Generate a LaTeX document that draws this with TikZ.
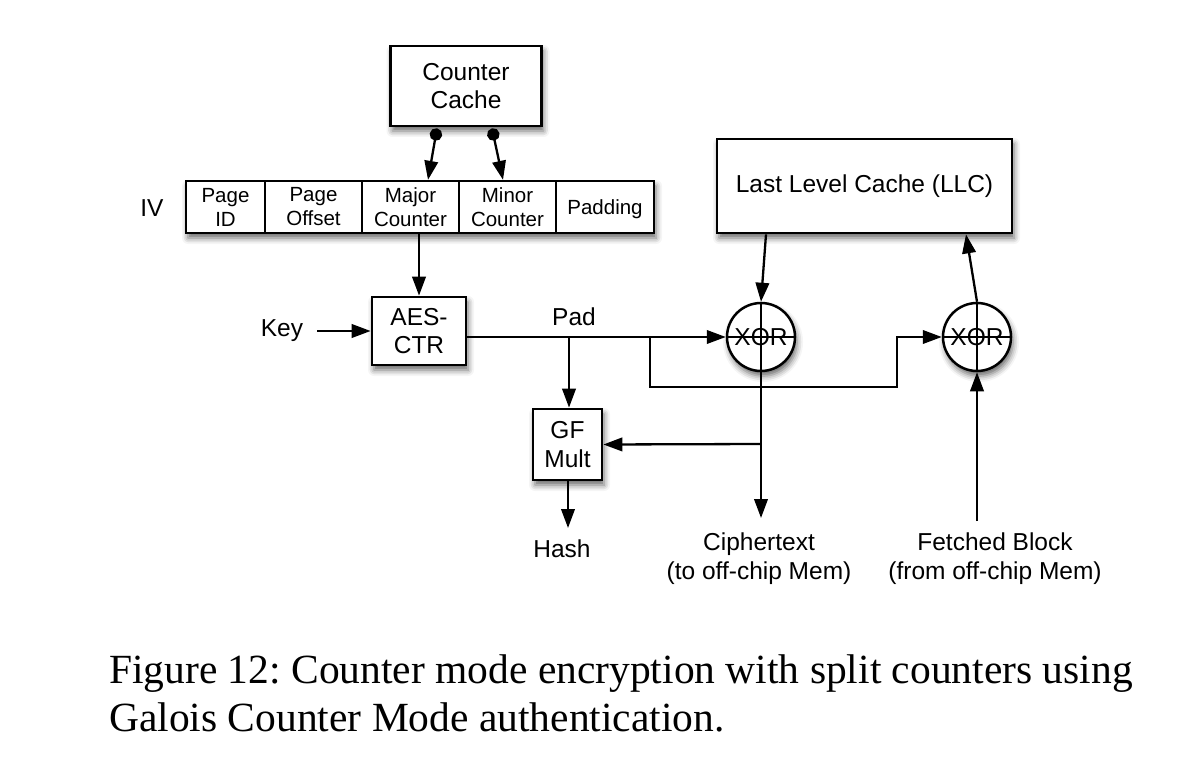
\documentclass[tikz,border=0pt]{standalone}
\usepackage{fontspec}
\setmainfont{Liberation Sans}
\newfontfamily\capfont{Liberation Serif}
\usetikzlibrary{arrows.meta,shadows.blur}
\frenchspacing
\begin{document}
\begin{tikzpicture}[x=1pt,y=-1pt,
  lw/.style={line width=2.3pt},
  arr/.style={lw,-{Triangle[length=19pt,width=13.5pt]}},
  dotarr/.style={lw,{Circle[length=12.5pt]}-{Triangle[length=19pt,width=13.5pt]}},
  shad/.style={blur shadow={shadow xshift=2pt,shadow yshift=-5pt,shadow blur radius=6pt,shadow opacity=60}},
  box/.style={draw,line width=2.7pt,fill=white,inner sep=0pt,align=center,shad,
     font=\fontsize{24.5}{28}\selectfont},
  cell/.style={draw,line width=2.3pt,fill=white,inner sep=0pt,align=center,minimum height=52pt,
     font=\fontsize{20.5}{24}\selectfont},
  lbl/.style={inner sep=0pt,align=center,font=\fontsize{24.5}{29}\selectfont},
  xorn/.style={circle,draw,line width=2.5pt,fill=white,minimum size=68pt,inner sep=0pt,shad},
]
\useasboundingbox (0,0) rectangle (1201,775);

% Counter cache
\node[box,minimum width=151pt,minimum height=80pt] (cc) at (466,86) {Counter\\Cache};

% IV row
\node[draw,line width=2.3pt,fill=white,minimum width=468pt,minimum height=52pt,inner sep=0pt,shad] (ivrow) at (420,207) {};
\node[cell,minimum width=79pt] (pid) at (225.5,207) {Page\\ID};
\node[cell,minimum width=97pt] (poff) at (313.5,207) {Page\\Offset};
\node[cell,minimum width=97pt] (major) at (410.5,207) {Major\\Counter};
\node[cell,minimum width=97pt] (minor) at (507.5,207) {Minor\\Counter};
\node[cell,minimum width=98pt] (pad) at (605,207) {};
\node[inner sep=0pt,font=\fontsize{20.5}{24}\selectfont] (padt) at (605,209) {Padding};
\node[lbl] (iv) at (152,208) {IV};

% AES-CTR and GF Mult
\node[box,minimum width=94pt,minimum height=68pt,font=\fontsize{24.5}{28}\selectfont] (aes) at (419,331) {AES-\\CTR};
\node[box,minimum width=69pt,minimum height=71pt,font=\fontsize{24.5}{29}\selectfont] (gf) at (567.5,444.5) {GF\\Mult};

% LLC
\node[box,minimum width=295pt,minimum height=94pt] (llc) at (864.5,186) {Last Level Cache (LLC)};

% XORs
\node[xorn] (x1) at (761,337) {};
\draw[lw] (x1.north) -- (x1.south) (x1.west) -- (x1.east);
\node[inner sep=0pt,font=\fontsize{24.5}{28}\selectfont] (x1t) at (761,337) {XOR};
\node[xorn] (x2) at (977,337) {};
\draw[lw] (x2.north) -- (x2.south) (x2.west) -- (x2.east);
\node[inner sep=0pt,font=\fontsize{24.5}{28}\selectfont] (x2t) at (977,337) {XOR};

% labels
\node[lbl] (key) at (282,331) {Key};
\node[lbl] (padl) at (574,317) {Pad};
\node[lbl] (hash) at (562,549) {Hash};
\node[lbl] (ciph) at (759,559) {Ciphertext\\(to off-chip Mem)};
\node[lbl] (fetch) at (995,559) {Fetched Block\\(from off-chip Mem)};

% coordinates
\coordinate (b1) at (569,337);
\coordinate (b2) at (650,337);
\coordinate (c1) at (650,387);
\coordinate (c2) at (897,387);
\coordinate (c3) at (897,337);
\coordinate (b3) at (761,444);
\coordinate (keyout) at (317,331);
\coordinate (hashin) at (568,528);
\coordinate (ciphin) at (761,518);
\coordinate (fetchout) at (977,521);

% connectors
\draw[dotarr] ([xshift=-29pt,yshift=-1pt]cc.south) -- ([xshift=17.5pt]major.north);
\draw[dotarr] ([xshift=26pt,yshift=-1pt]cc.south) -- ([xshift=-4.5pt]minor.north);
\draw[arr] (aes.north |- major.south) -- (aes.north);
\draw[arr] (keyout) -- (aes.west |- keyout);
\draw[arr] (x1.west -| aes.east) -- (x1.west);
\draw[arr] (b1) -- (b1 |- gf.north);
\draw[arr] (b2) -- (c1) -- (c2) -- (c3) -- (x2.west);
\draw[arr] ([xshift=-98.5pt]llc.south) -- (x1.north);
\draw[arr] (x2.north) -- ([xshift=101.5pt]llc.south);
\draw[arr] (x1.south) -- (ciphin);
\draw[arr] (b3) -- (gf.east);
\draw[arr] (gf.south -| hashin) -- (hashin);
\draw[arr] (fetchout) -- (x2.south);

% caption
\node[anchor=base west,inner sep=0pt,font=\capfont\fontsize{41.5}{48}\selectfont] (cap1) at (109,683) {Figure 12: Counter mode encryption with split counters using};
\node[anchor=base west,inner sep=0pt,font=\capfont\fontsize{41.5}{48}\selectfont] (cap2) at (109,731) {Galois Counter Mode authentication.};
\end{tikzpicture}
\end{document}
